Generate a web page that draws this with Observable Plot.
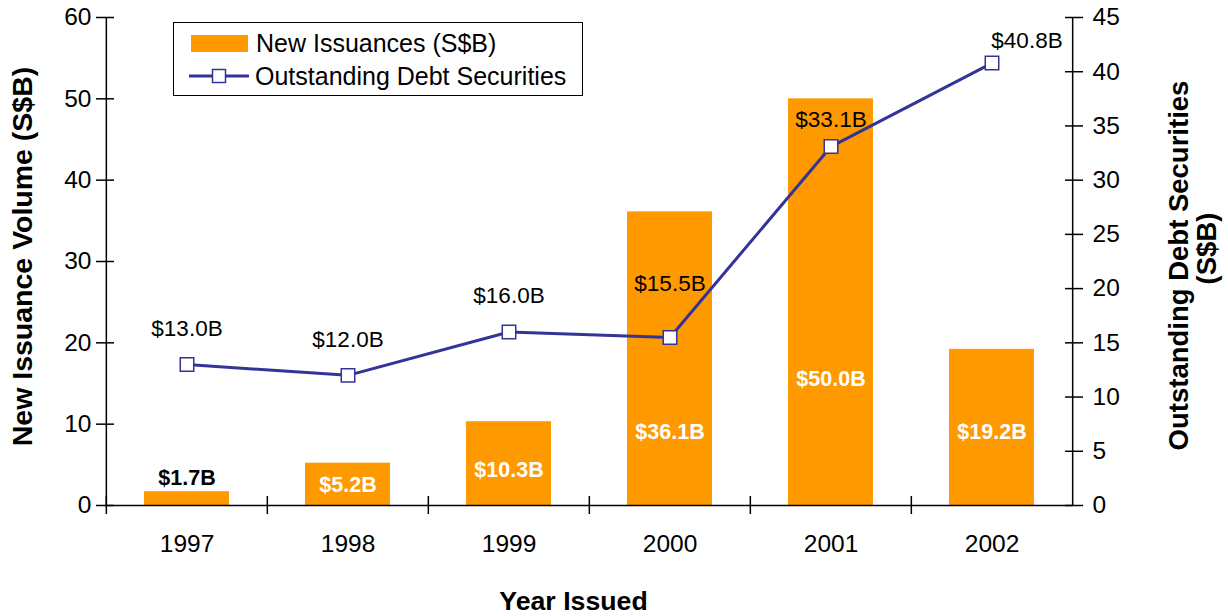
<!DOCTYPE html>
<html><head><meta charset="utf-8">
<script src="https://cdn.jsdelivr.net/npm/d3@7"></script>
<script src="https://cdn.jsdelivr.net/npm/@observablehq/plot@0.6"></script>
<style>
body{margin:0;background:#fff;font-family:"Liberation Sans",Arial,sans-serif;}
#wrap{position:relative;width:1228px;height:616px;overflow:hidden;}
#legend{position:absolute;left:173px;top:22px;width:408px;height:72px;border:1px solid #000;background:#fff;font-size:25px;color:#000;}
.row{position:absolute;left:0;height:30px;display:flex;align-items:center;white-space:nowrap;}
</style></head><body>
<div id="wrap"><div id="chart"></div>
<div id="legend">
  <div class="row" style="top:5px"><div style="width:57px;height:17px;background:#FF9900;margin-left:17px"></div><span style="margin-left:8px">New Issuances (S$B)</span></div>
  <div class="row" style="top:38px"><svg width="64" height="20" style="margin-left:14px"><line x1="1" y1="10" x2="61" y2="10" stroke="#333399" stroke-width="3"/><rect x="24.5" y="3.5" width="13" height="13" fill="#fff" stroke="#333399" stroke-width="1.5"/></svg><span style="margin-left:3px">Outstanding Debt Securities</span></div>
</div>
</div>
<script>
const years = ["1997","1998","1999","2000","2001","2002"];
const newIssuances = [1.7, 5.2, 10.3, 36.1, 50.0, 19.2];
const outstandingDebt = [13.0, 12.0, 16.0, 15.5, 33.1, 40.8];
const barLabelAt = [3.4, 2.5, 4.3, 9.0, 15.6, 9.0];
const leftTicks = [0, 10, 20, 30, 40, 50, 60];
const rightTicks = [0, 5, 10, 15, 20, 25, 30, 35, 40, 45];
const leftTitle = "New Issuance Volume (S$B)";
const rightTitle = ["Outstanding Debt Securities", "(S$B)"];
const xTitle = "Year Issued";

const k = 60 / 45;
const data = years.map((y, i) => ({year: y, issued: newIssuances[i], out: outstandingDebt[i], labelAt: barLabelAt[i]}));
const width = 1228, mL = 105, mR = 155;
const step = (width - mL - mR) / years.length;
const fmt = v => `$${v.toFixed(1)}B`;
const tickFont = {fontSize: 24.5};
const labelFont = {fontSize: 22.5};
const barFont = {fontSize: 21.5};
const titleFont = {fontWeight: "bold", fill: "#000"};

const chart = Plot.plot({
  width, height: 616,
  marginLeft: mL, marginRight: mR, marginTop: 17, marginBottom: 111,
  style: {fontFamily: "'Liberation Sans', Arial, sans-serif", fontSize: "20px", color: "#000", background: "#fff"},
  x: {domain: years, paddingInner: 0.47, paddingOuter: 0.235},
  y: {domain: [0, 60]},
  color: {type: "identity"},
  marks: [
    Plot.barY(data, {x: "year", y: "issued", fill: "#FF9900"}),
    Plot.ruleY([0], {stroke: "#000", strokeWidth: 1.5}),
    Plot.ruleX([years[0]], {dx: -step / 2, stroke: "#000", strokeWidth: 1.5}),
    Plot.ruleX([years[years.length - 1]], {dx: step / 2, stroke: "#000", strokeWidth: 1.5}),
    Plot.axisX({tickSize: 18, dy: -9, dx: -step / 2, fill: "none", label: null, strokeWidth: 1.5}),
    Plot.axisX({tickSize: 0, tickPadding: 29, stroke: "none", label: null, ...tickFont}),
    Plot.axisY(leftTicks, {anchor: "left", tickSize: 18, dx: 9, fill: "none", label: null, strokeWidth: 1.5}),
    Plot.axisY(leftTicks, {anchor: "left", tickSize: 0, tickPadding: 14, stroke: "none", label: null, ...tickFont}),
    Plot.axisY(rightTicks.map(v => v * k), {anchor: "right", tickSize: 18, dx: -9, fill: "none", label: null, strokeWidth: 1.5}),
    Plot.axisY(rightTicks.map(v => v * k), {anchor: "right", tickSize: 0, tickPadding: 19, stroke: "none", label: null, tickFormat: d => Math.round(d / k), ...tickFont}),
    Plot.text(data, {x: "year", y: "labelAt", text: d => fmt(d.issued), fill: d => d.issued < 2 ? "#000" : "#fff", fontWeight: "bold", ...barFont}),
    Plot.line(data, {x: "year", y: d => d.out * k, stroke: "#333399", strokeWidth: 3}),
    Plot.dot(data, {x: "year", y: d => d.out * k, symbol: "square", r: 7.6, fill: "#fff", stroke: "#333399", strokeWidth: 1.5}),
    Plot.text(data.slice(0, 3), {x: "year", y: d => d.out * k, text: d => fmt(d.out), dy: -36, fill: "#000", ...labelFont}),
    Plot.text(data.slice(3, 4), {x: "year", y: d => d.out * k, text: d => fmt(d.out), dy: -54, fill: "#000", ...labelFont}),
    Plot.text(data.slice(4, 5), {x: "year", y: d => d.out * k, text: d => fmt(d.out), dy: -27, fill: "#000", ...labelFont}),
    Plot.text(data.slice(5, 6), {x: "year", y: d => d.out * k, text: d => fmt(d.out), dy: -22, dx: 35, fill: "#000", ...labelFont}),
    Plot.text([xTitle], {frameAnchor: "bottom", textAnchor: "middle", lineAnchor: "middle", dy: 96, dx: -16, fontSize: 26.7, ...titleFont}),
    Plot.text([leftTitle], {frameAnchor: "left", textAnchor: "middle", lineAnchor: "middle", dx: -83, dy: -5, rotate: -90, fontSize: 28.5, ...titleFont}),
    Plot.text([rightTitle[0]], {frameAnchor: "right", textAnchor: "middle", lineAnchor: "middle", dx: 106, dy: 4, rotate: -90, fontSize: 27.5, ...titleFont}),
    Plot.text([rightTitle[1]], {frameAnchor: "right", textAnchor: "middle", lineAnchor: "middle", dx: 134, dy: -13, rotate: -90, fontSize: 27.5, ...titleFont})
  ]
});
document.getElementById("chart").appendChild(chart);
</script>
</body></html>
